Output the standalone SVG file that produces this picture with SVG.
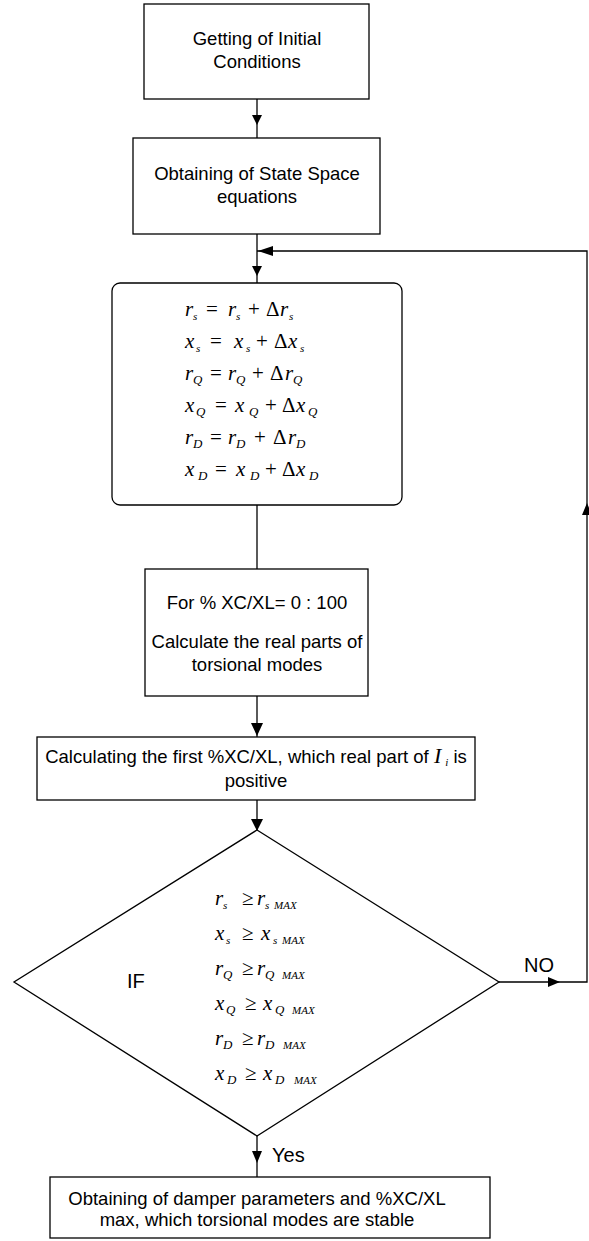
<svg xmlns="http://www.w3.org/2000/svg" width="589" height="1241" viewBox="0 0 589 1241">
<style>
.box{fill:#fff;stroke:#000;stroke-width:1.3}
.t{font-family:"Liberation Sans",Arial,sans-serif;font-size:18.5px;fill:#000;text-anchor:middle}
.lbl{font-family:"Liberation Sans",Arial,sans-serif;font-size:20px;fill:#000}
.eq{font-family:"Liberation Serif","Times New Roman",serif;font-size:21px;fill:#000}
.v{font-style:italic}
.s{font-style:italic;font-size:11px}
.c{font-style:italic;font-size:13px}
.m{font-style:italic;font-size:11px}
.ln{fill:none;stroke:#000;stroke-width:1.3}
.ah{fill:#000;stroke:none}
</style>
<g id="connectors">
<line class="ln" x1="257" y1="99" x2="257" y2="138"/>
<polygon class="ah" points="252,115 262,115 257,125"/>
<line class="ln" x1="257" y1="234" x2="257" y2="283"/>
<polygon class="ah" points="252,266 262,266 257,276"/>
<line class="ln" x1="257" y1="505" x2="257" y2="569"/>
<line class="ln" x1="257" y1="696" x2="257" y2="737"/>
<polygon class="ah" points="251,723 263,723 257,736"/>
<line class="ln" x1="257" y1="800" x2="257" y2="830"/>
<polygon class="ah" points="251,819 263,819 257,831"/>
<line class="ln" x1="257" y1="1136" x2="257" y2="1177"/>
<polygon class="ah" points="252,1151 262,1151 257,1163"/>
<polyline class="ln" points="499,982 587,982 587,251 257,251"/>
<polygon class="ah" points="548,977 548,987 560,982"/>
<polygon class="ah" points="582,515 592,515 587,503"/>
<polygon class="ah" points="273,246 273,256 258,251"/>
<text class="lbl" x="524" y="972">NO</text>
<text class="lbl" x="272" y="1162">Yes</text>
</g>
<g id="n1">
<rect class="box" x="144" y="4" width="225" height="95"/>
<text class="t" x="257" y="45">Getting of Initial</text>
<text class="t" x="257" y="68">Conditions</text>
</g>
<g id="n2">
<rect class="box" x="133" y="138" width="247" height="96"/>
<text class="t" x="257" y="180">Obtaining of State Space</text>
<text class="t" x="257" y="203">equations</text>
</g>
<g id="n3">
<rect class="box" x="112" y="283" width="290" height="222" rx="8" ry="8"/>
<text class="eq" y="316"><tspan class="v" x="185">r</tspan><tspan class="s" x="193" dy="4">s</tspan><tspan x="206" dy="-4">=</tspan><tspan class="v" x="228">r</tspan><tspan class="s" x="236" dy="4">s</tspan><tspan x="248" dy="-4">+</tspan><tspan x="266">Δ</tspan><tspan class="v" x="280">r</tspan><tspan class="s" x="289" dy="4">s</tspan></text>
<text class="eq" y="348"><tspan class="v" x="185">x</tspan><tspan class="s" x="196" dy="4">s</tspan><tspan x="210" dy="-4">=</tspan><tspan class="v" x="234">x</tspan><tspan class="s" x="246" dy="4">s</tspan><tspan x="256" dy="-4">+</tspan><tspan x="274">Δ</tspan><tspan class="v" x="288">x</tspan><tspan class="s" x="300" dy="4">s</tspan></text>
<text class="eq" y="380"><tspan class="v" x="185">r</tspan><tspan class="c" x="193" dy="4">Q</tspan><tspan x="210" dy="-4">=</tspan><tspan class="v" x="228">r</tspan><tspan class="c" x="236" dy="4">Q</tspan><tspan x="252" dy="-4">+</tspan><tspan x="270">Δ</tspan><tspan class="v" x="285">r</tspan><tspan class="c" x="293" dy="4">Q</tspan></text>
<text class="eq" y="412"><tspan class="v" x="185">x</tspan><tspan class="c" x="196" dy="4">Q</tspan><tspan x="215" dy="-4">=</tspan><tspan class="v" x="235">x</tspan><tspan class="c" x="249" dy="4">Q</tspan><tspan x="265" dy="-4">+</tspan><tspan x="282">Δ</tspan><tspan class="v" x="296">x</tspan><tspan class="c" x="308" dy="4">Q</tspan></text>
<text class="eq" y="444"><tspan class="v" x="185">r</tspan><tspan class="c" x="193" dy="4">D</tspan><tspan x="210" dy="-4">=</tspan><tspan class="v" x="228">r</tspan><tspan class="c" x="236" dy="4">D</tspan><tspan x="254" dy="-4">+</tspan><tspan x="273">Δ</tspan><tspan class="v" x="288">r</tspan><tspan class="c" x="296" dy="4">D</tspan></text>
<text class="eq" y="476"><tspan class="v" x="185">x</tspan><tspan class="c" x="198" dy="4">D</tspan><tspan x="215" dy="-4">=</tspan><tspan class="v" x="236">x</tspan><tspan class="c" x="250" dy="4">D</tspan><tspan x="265" dy="-4">+</tspan><tspan x="282">Δ</tspan><tspan class="v" x="296">x</tspan><tspan class="c" x="309" dy="4">D</tspan></text>
</g>
<g id="n4">
<rect class="box" x="145" y="569" width="223" height="127"/>
<text class="t" x="257" y="609">For % XC/XL= 0 : 100</text>
<text class="t" x="257" y="648">Calculate the real parts of</text>
<text class="t" x="257" y="671">torsional modes</text>
</g>
<g id="n5">
<rect class="box" x="37" y="737" width="438" height="63"/>
<text class="t" x="256" y="763">Calculating the first %XC/XL, which real part of <tspan font-family="Liberation Serif, serif" font-style="italic" font-size="22px">I</tspan><tspan font-family="Liberation Serif, serif" font-style="italic" font-size="11px" dx="4" dy="3">i</tspan><tspan dy="-3"> is</tspan></text>
<text class="t" x="256" y="787">positive</text>
</g>
<g id="n6">
<polygon class="box" points="257,830 499,982 257,1136 14,982"/>
<text class="lbl" x="127" y="988">IF</text>
<text class="eq" y="905"><tspan class="v" x="215">r</tspan><tspan class="s" x="223" dy="4">s</tspan><tspan x="242" dy="-4">≥</tspan><tspan class="v" x="257">r</tspan><tspan class="s" x="265" dy="4">s</tspan><tspan class="m" x="274">MAX</tspan></text>
<text class="eq" y="940"><tspan class="v" x="215">x</tspan><tspan class="s" x="226" dy="4">s</tspan><tspan x="242" dy="-4">≥</tspan><tspan class="v" x="261">x</tspan><tspan class="s" x="273" dy="4">s</tspan><tspan class="m" x="282">MAX</tspan></text>
<text class="eq" y="975"><tspan class="v" x="215">r</tspan><tspan class="c" x="223" dy="4">Q</tspan><tspan x="242" dy="-4">≥</tspan><tspan class="v" x="257">r</tspan><tspan class="c" x="265" dy="4">Q</tspan><tspan class="m" x="282">MAX</tspan></text>
<text class="eq" y="1010"><tspan class="v" x="215">x</tspan><tspan class="c" x="226" dy="4">Q</tspan><tspan x="245" dy="-4">≥</tspan><tspan class="v" x="263">x</tspan><tspan class="c" x="275" dy="4">Q</tspan><tspan class="m" x="292">MAX</tspan></text>
<text class="eq" y="1045"><tspan class="v" x="215">r</tspan><tspan class="c" x="223" dy="4">D</tspan><tspan x="242" dy="-4">≥</tspan><tspan class="v" x="257">r</tspan><tspan class="c" x="265" dy="4">D</tspan><tspan class="m" x="283">MAX</tspan></text>
<text class="eq" y="1080"><tspan class="v" x="215">x</tspan><tspan class="c" x="227" dy="4">D</tspan><tspan x="245" dy="-4">≥</tspan><tspan class="v" x="263">x</tspan><tspan class="c" x="275" dy="4">D</tspan><tspan class="m" x="294">MAX</tspan></text>
</g>
<g id="n7">
<rect class="box" x="50" y="1177" width="440" height="61"/>
<text class="t" x="257" y="1205">Obtaining of damper parameters and %XC/XL</text>
<text class="t" x="257" y="1226">max, which torsional modes are stable</text>
</g>
</svg>
